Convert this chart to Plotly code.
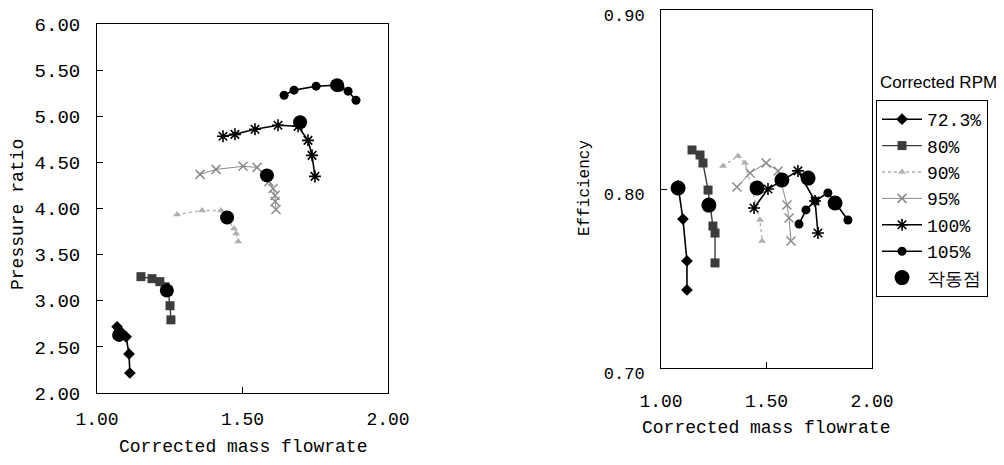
import plotly.graph_objects as go

# ---------------- data ----------------
series_names = ["72.3%", "80%", "90%", "95%", "100%", "105%"]
op_name = "작동점"

# Left chart: pressure ratio vs corrected mass flowrate
pr_x_723 = [1.069, 1.082, 1.100, 1.110, 1.113]
pr_y_723 = [2.717, 2.663, 2.609, 2.424, 2.217]
pr_x_80 = [1.151, 1.189, 1.216, 1.234, 1.244, 1.251, 1.254]
pr_y_80 = [3.261, 3.239, 3.207, 3.152, 3.109, 2.946, 2.793]
pr_x_90 = [1.275, 1.361, 1.426, 1.471, 1.478, 1.485]
pr_y_90 = [3.935, 3.978, 3.978, 3.783, 3.728, 3.641]
pr_x_95 = [1.354, 1.409, 1.502, 1.550, 1.591, 1.605, 1.612, 1.612, 1.615]
pr_y_95 = [4.370, 4.424, 4.457, 4.446, 4.293, 4.217, 4.141, 4.076, 3.989]
pr_x_100 = [1.433, 1.474, 1.543, 1.622, 1.691, 1.725, 1.739, 1.749]
pr_y_100 = [4.783, 4.804, 4.859, 4.902, 4.891, 4.739, 4.576, 4.348]
pr_x_105 = [1.643, 1.677, 1.753, 1.825, 1.835, 1.863, 1.890]
pr_y_105 = [5.228, 5.283, 5.326, 5.337, 5.315, 5.272, 5.174]
pr_op_x = [1.076, 1.240, 1.447, 1.584, 1.698, 1.825]
pr_op_y = [2.630, 3.110, 3.902, 4.359, 4.935, 5.337]

# Right chart: efficiency vs corrected mass flowrate
ef_x_723 = [1.081, 1.104, 1.123, 1.123]
ef_y_723 = [0.8017, 0.7832, 0.7598, 0.7436]
ef_x_80 = [1.147, 1.185, 1.199, 1.223, 1.246, 1.256, 1.256]
ef_y_80 = [0.8218, 0.8190, 0.8145, 0.7994, 0.7793, 0.7754, 0.7587]
ef_x_90 = [1.294, 1.365, 1.398, 1.469, 1.479]
ef_y_90 = [0.8128, 0.8184, 0.8145, 0.7827, 0.7710]
ef_x_95 = [1.360, 1.422, 1.498, 1.555, 1.597, 1.607, 1.616]
ef_y_95 = [0.8011, 0.8089, 0.8145, 0.8101, 0.7911, 0.7838, 0.7709]
ef_x_100 = [1.441, 1.507, 1.649, 1.730, 1.744]
ef_y_100 = [0.7894, 0.8000, 0.8101, 0.7933, 0.7754]
ef_x_105 = [1.654, 1.687, 1.730, 1.791, 1.886]
ef_y_105 = [0.7804, 0.7883, 0.7933, 0.7978, 0.7827]
ef_op_x = [1.081, 1.227, 1.455, 1.573, 1.697, 1.825]
ef_op_y = [0.8006, 0.7910, 0.8006, 0.8050, 0.8061, 0.7922]

x_ticks = [1.0, 1.5, 2.0]
x_tick_text = ["1.00", "1.50", "2.00"]
pr_ticks = [2.0, 2.5, 3.0, 3.5, 4.0, 4.5, 5.0, 5.5, 6.0]
pr_tick_text = ["2.00", "2.50", "3.00", "3.50", "4.00", "4.50", "5.00", "5.50", "6.00"]
ef_ticks = [0.7, 0.8, 0.9]
ef_tick_text = ["0.70", "0.80", "0.90"]

# ---------------- layout helpers (page has an 8px body margin) ----------------
OFF = 8
W, H = 1004 - OFF, 465 - OFF

def px(x):
    return (x - OFF) / W

def py(y):
    return 1 - (y - OFF) / H

# ---------------- styles ----------------
styles = [
    dict(color="#000000", dash="solid", width=1.6, symbol="diamond", msize=9, mline=0),
    dict(color="#3c3c3c", dash="solid", width=1.4, symbol="square", msize=9, mline=0),
    dict(color="#b0b0b0", dash="dot", width=1.4, symbol="triangle-up", msize=7, mline=0),
    dict(color="#8a8a8a", dash="solid", width=1.0, symbol="x-thin-open", msize=9, mline=1.5),
    dict(color="#000000", dash="solid", width=1.6, symbol="asterisk-open", msize=10, mline=1.6),
    dict(color="#000000", dash="solid", width=1.6, symbol="circle", msize=9, mline=0),
]

pr_data = [(pr_x_723, pr_y_723), (pr_x_80, pr_y_80), (pr_x_90, pr_y_90),
           (pr_x_95, pr_y_95), (pr_x_100, pr_y_100), (pr_x_105, pr_y_105)]
ef_data = [(ef_x_723, ef_y_723), (ef_x_80, ef_y_80), (ef_x_90, ef_y_90),
           (ef_x_95, ef_y_95), (ef_x_100, ef_y_100), (ef_x_105, ef_y_105)]

fig = go.Figure()

def add_series(xs, ys, name, st, xa, ya, show):
    marker = dict(symbol=st["symbol"], size=st["msize"], color=st["color"])
    if st["mline"]:
        marker["line"] = dict(color=st["color"], width=st["mline"])
    fig.add_trace(go.Scatter(
        x=xs, y=ys, name=name, mode="lines+markers",
        line=dict(color=st["color"], dash=st["dash"], width=st["width"]),
        marker=marker, xaxis=xa, yaxis=ya, showlegend=show,
        legendgroup=name, cliponaxis=False))

for (xs, ys), name, st in zip(pr_data, series_names, styles):
    add_series(xs, ys, name, st, "x", "y", False)
for (xs, ys), name, st in zip(ef_data, series_names, styles):
    add_series(xs, ys, name, st, "x2", "y2", True)

fig.add_trace(go.Scatter(x=pr_op_x, y=pr_op_y, mode="markers", name=op_name,
                         marker=dict(symbol="circle", size=14, color="#000000"),
                         xaxis="x", yaxis="y", showlegend=False, cliponaxis=False))
fig.add_trace(go.Scatter(x=ef_op_x, y=ef_op_y, mode="markers", name=op_name,
                         marker=dict(symbol="circle", size=15, color="#000000"),
                         xaxis="x2", yaxis="y2", showlegend=True, legendgroup=op_name,
                         cliponaxis=False))

mono = "Liberation Mono"
axis_common = dict(showline=True, linecolor="#000000", linewidth=1, mirror=True,
                   showgrid=False, zeroline=False, ticks="inside", tickcolor="#000000",
                   tickwidth=1, ticklen=6, automargin=False)

fig.update_layout(
    width=W, height=H,
    margin=dict(l=0, r=0, t=0, b=0, pad=0, autoexpand=False),
    paper_bgcolor="white", plot_bgcolor="white",
    font=dict(family=mono, color="#000000"),
    xaxis=dict(domain=[px(97), px(388)], range=[1, 2], tickvals=x_ticks, ticktext=x_tick_text,
               tickfont=dict(size=18, family=mono), ticklabelstandoff=9, anchor="y", **axis_common),
    yaxis=dict(domain=[py(393), py(24)], range=[2, 6], tickvals=pr_ticks, ticktext=pr_tick_text,
               tickfont=dict(size=19, family=mono), ticklabelstandoff=12, anchor="x", **axis_common),
    xaxis2=dict(domain=[px(661), px(872)], range=[1, 2], tickvals=x_ticks, ticktext=x_tick_text,
                tickfont=dict(size=18, family=mono), ticklabelstandoff=16, anchor="y2", **axis_common),
    yaxis2=dict(domain=[py(368), py(10)], range=[0.7, 0.9], tickvals=ef_ticks, ticktext=ef_tick_text,
                tickfont=dict(size=17, family=mono), ticklabelstandoff=12, ticklabelshift=5,
                ticklabeloverflow="allow", anchor="x2", **axis_common),
    legend=dict(x=px(876), y=py(100), xanchor="left", yanchor="top",
                bordercolor="#000000", borderwidth=1, bgcolor="white",
                font=dict(size=18, family=mono), itemwidth=40, tracegroupgap=0,
                traceorder="normal"),
    annotations=[
        dict(text="Corrected mass flowrate", x=px(243), y=py(447), xref="paper", yref="paper",
             showarrow=False, font=dict(size=18, family=mono), xanchor="center", yanchor="middle"),
        dict(text="Pressure ratio", x=px(18), y=py(215), xref="paper", yref="paper",
             showarrow=False, textangle=-90, font=dict(size=18, family=mono),
             xanchor="center", yanchor="middle"),
        dict(text="Corrected mass flowrate", x=px(766), y=py(428), xref="paper", yref="paper",
             showarrow=False, font=dict(size=18, family=mono), xanchor="center", yanchor="middle"),
        dict(text="Efficiency", x=px(585), y=py(188), xref="paper", yref="paper",
             showarrow=False, textangle=-90, font=dict(size=16, family=mono),
             xanchor="center", yanchor="middle"),
        dict(text="Corrected RPM", x=px(878), y=py(83), xref="paper", yref="paper",
             showarrow=False, font=dict(size=17, family="Liberation Sans"),
             xanchor="left", yanchor="middle"),
    ],
)

fig.write_html("out.html")
